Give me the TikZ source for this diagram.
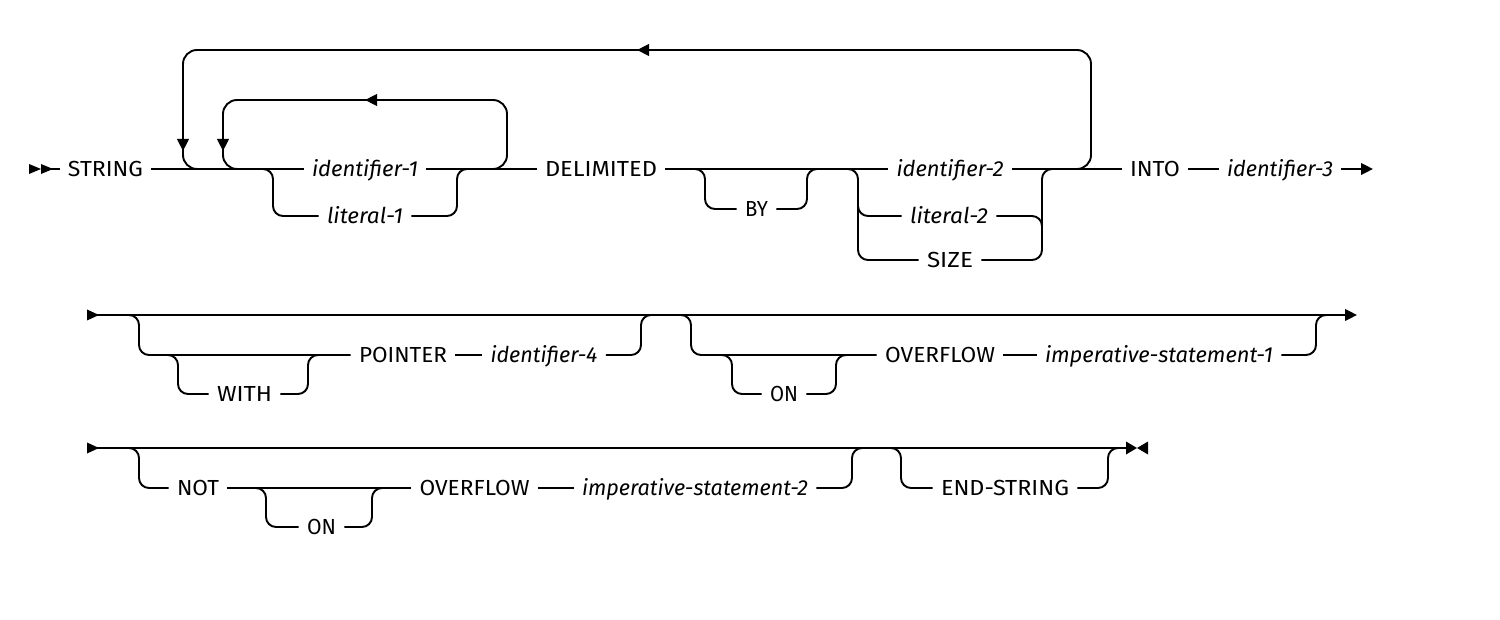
\documentclass[tikz,border=0pt]{standalone}
\usepackage{fontspec}
\setmainfont{Fira Sans}
\usepackage{graphicx}
\usetikzlibrary{arrows.meta}
\newcommand\fw[2]{\resizebox{#1}{\height}{#2}}
\begin{document}
\begin{tikzpicture}[x=0.5pt,y=-0.5pt,
  railpath/.style={draw, line width=0.95pt, rounded corners=5pt},
  looppath/.style={draw, line width=0.95pt, rounded corners=7pt},
  arrowend/.style={-{Triangle[length=6pt,width=5.8pt]}},
  kw/.style={inner xsep=4pt, inner ysep=0pt, text height=7.4pt, text depth=0pt, font=\fontsize{10.9}{12}\selectfont},
  var/.style={kw, font=\fontsize{10.9}{12}\selectfont\itshape}]
\useasboundingbox (0,0) rectangle (1500,620);

% ---------- row 1 ----------
\node[kw]  (string) at (105.5,169) {\fw{37.5pt}{STRING}};
\node[var] (id1)    at (365,169)   {\fw{53pt}{identifier-1}};
\node[var] (lit1)   at (365,216)   {\fw{38pt}{literal-1}};
\node[kw]  (delim)  at (601,169)   {\fw{56pt}{DELIMITED}};
\node[kw]  (by)     at (756.5,209) {\fw{11.5pt}{BY}};
\node[var] (id2)    at (950,169)   {\fw{53.5pt}{identifier-2}};
\node[var] (lit2)   at (949,216)   {\fw{39pt}{literal-2}};
\node[kw]  (size)   at (950,260)   {\fw{23pt}{SIZE}};
\node[kw]  (into)   at (1155,169)  {\fw{25pt}{INTO}};
\node[var] (id3)    at (1280,169)  {\fw{53pt}{identifier-3}};

\fill (29,164) -- (41,169) -- (29,174) -- cycle;
\fill (41,164) -- (53,169) -- (41,174) -- cycle;
\coordinate (r1s) at (45,169);
\coordinate (r1e) at (1373,169);
\draw[railpath] (r1s) -- (string.west);
\draw[railpath] (string.east) -- (id1.west);
\draw[railpath] (id1.east) -- (delim.west);
\draw[railpath] (delim.east) -- (id2.west);
\draw[railpath] (id2.east) -- (into.west);
\draw[railpath] (into.east) -- (id3.west);
\draw[railpath, arrowend] (id3.east) -- (r1e);

% outer repeat loop
\draw[looppath, arrowend] (1070,169) -- (1091,169) -- (1091,50) -- (637,50);
\draw[looppath, arrowend] (645,50) -- (183,50) -- (183,151);
\draw[looppath] (183,146) -- (183,169) -- (200,169);
% inner repeat loop
\draw[looppath, arrowend] (485,169) -- (507,169) -- (507,100) -- (365,100);
\draw[looppath, arrowend] (373,100) -- (223,100) -- (223,151);
\draw[looppath] (223,146) -- (223,169) -- (240,169);
% identifier-1 / literal-1
\draw[railpath] (255,169) -- (273,169) -- (273,216) -- (lit1.west);
\draw[railpath] (lit1.east) -- (457,216) -- (457,169) -- (475,169);
% BY
\draw[railpath] (688,169) -- (705,169) -- (705,209) -- (by.west);
\draw[railpath] (by.east) -- (807,209) -- (807,169) -- (825,169);
% identifier-2 / literal-2 / SIZE
\draw[railpath] (840,169) -- (858,169) -- (858,260) -- (size.west);
\draw[railpath] (858,195) -- (858,216) -- (lit2.west);
\draw[railpath] (lit2.east) -- (1042,216) -- (1042,235);
\draw[railpath] (size.east) -- (1042,260) -- (1042,169) -- (1060,169);

% ---------- row 2 ----------
\node[kw]  (with)    at (244.5,394) {\fw{27.5pt}{WITH}};
\node[kw]  (pointer) at (403,355)   {\fw{44pt}{POINTER}};
\node[var] (id4)     at (544,355)   {\fw{53.5pt}{identifier-4}};
\node[kw]  (on1)     at (784,394)   {\fw{14pt}{ON}};
\node[kw]  (ovf1)    at (940,355)   {\fw{55pt}{OVERFLOW}};
\node[var] (imp1)    at (1159,355)  {\fw{114pt}{imperative-statement-1}};

\fill (87,309.5) -- (99,315) -- (87,320.5) -- cycle;
\coordinate (r2s) at (95,315);
\coordinate (r2e) at (1357,315);
\draw[railpath, arrowend] (r2s) -- (r2e);
\draw[railpath] (120,315) -- (139,315) -- (139,355) -- (pointer.west);
\draw[railpath] (160,355) -- (178,355) -- (178,394) -- (with.west);
\draw[railpath] (with.east) -- (308,394) -- (308,355) -- (326,355);
\draw[railpath] (pointer.east) -- (id4.west);
\draw[railpath] (id4.east) -- (641,355) -- (641,315) -- (660,315);
\draw[railpath] (672,315) -- (691,315) -- (691,355) -- (ovf1.west);
\draw[railpath] (714,355) -- (732,355) -- (732,394) -- (on1.west);
\draw[railpath] (on1.east) -- (836,394) -- (836,355) -- (854,355);
\draw[railpath] (ovf1.east) -- (imp1.west);
\draw[railpath] (imp1.east) -- (1316,355) -- (1316,315) -- (1334,315);

% ---------- row 3 ----------
\node[kw]  (not)    at (198,488)   {\fw{21pt}{NOT}};
\node[kw]  (on2)    at (321.5,527) {\fw{14.5pt}{ON}};
\node[kw]  (ovf2)   at (474.5,488) {\fw{55pt}{OVERFLOW}};
\node[var] (imp2)   at (695,488)   {\fw{113pt}{imperative-statement-2}};
\node[kw]  (endstr) at (1005,488)  {\fw{64pt}{END-STRING}};

\fill (87,442.5) -- (99,448) -- (87,453.5) -- cycle;
\coordinate (r3s) at (95,448);
\coordinate (r3e) at (1127,448);
\draw[railpath] (r3s) -- (r3e);
\fill (1126,441.5) -- (1137,448) -- (1126,454.5) -- cycle;
\fill (1148,441.5) -- (1137,448) -- (1148,454.5) -- cycle;
\draw[railpath] (120,448) -- (139,448) -- (139,488) -- (not.west);
\draw[railpath] (not.east) -- (ovf2.west);
\draw[railpath] (248,488) -- (266,488) -- (266,527) -- (on2.west);
\draw[railpath] (on2.east) -- (372,527) -- (372,488) -- (390,488);
\draw[railpath] (ovf2.east) -- (imp2.west);
\draw[railpath] (imp2.east) -- (852,488) -- (852,448) -- (870,448);
\draw[railpath] (883,448) -- (901,448) -- (901,488) -- (endstr.west);
\draw[railpath] (endstr.east) -- (1108,488) -- (1108,448) -- (1125,448);
\end{tikzpicture}
\end{document}
